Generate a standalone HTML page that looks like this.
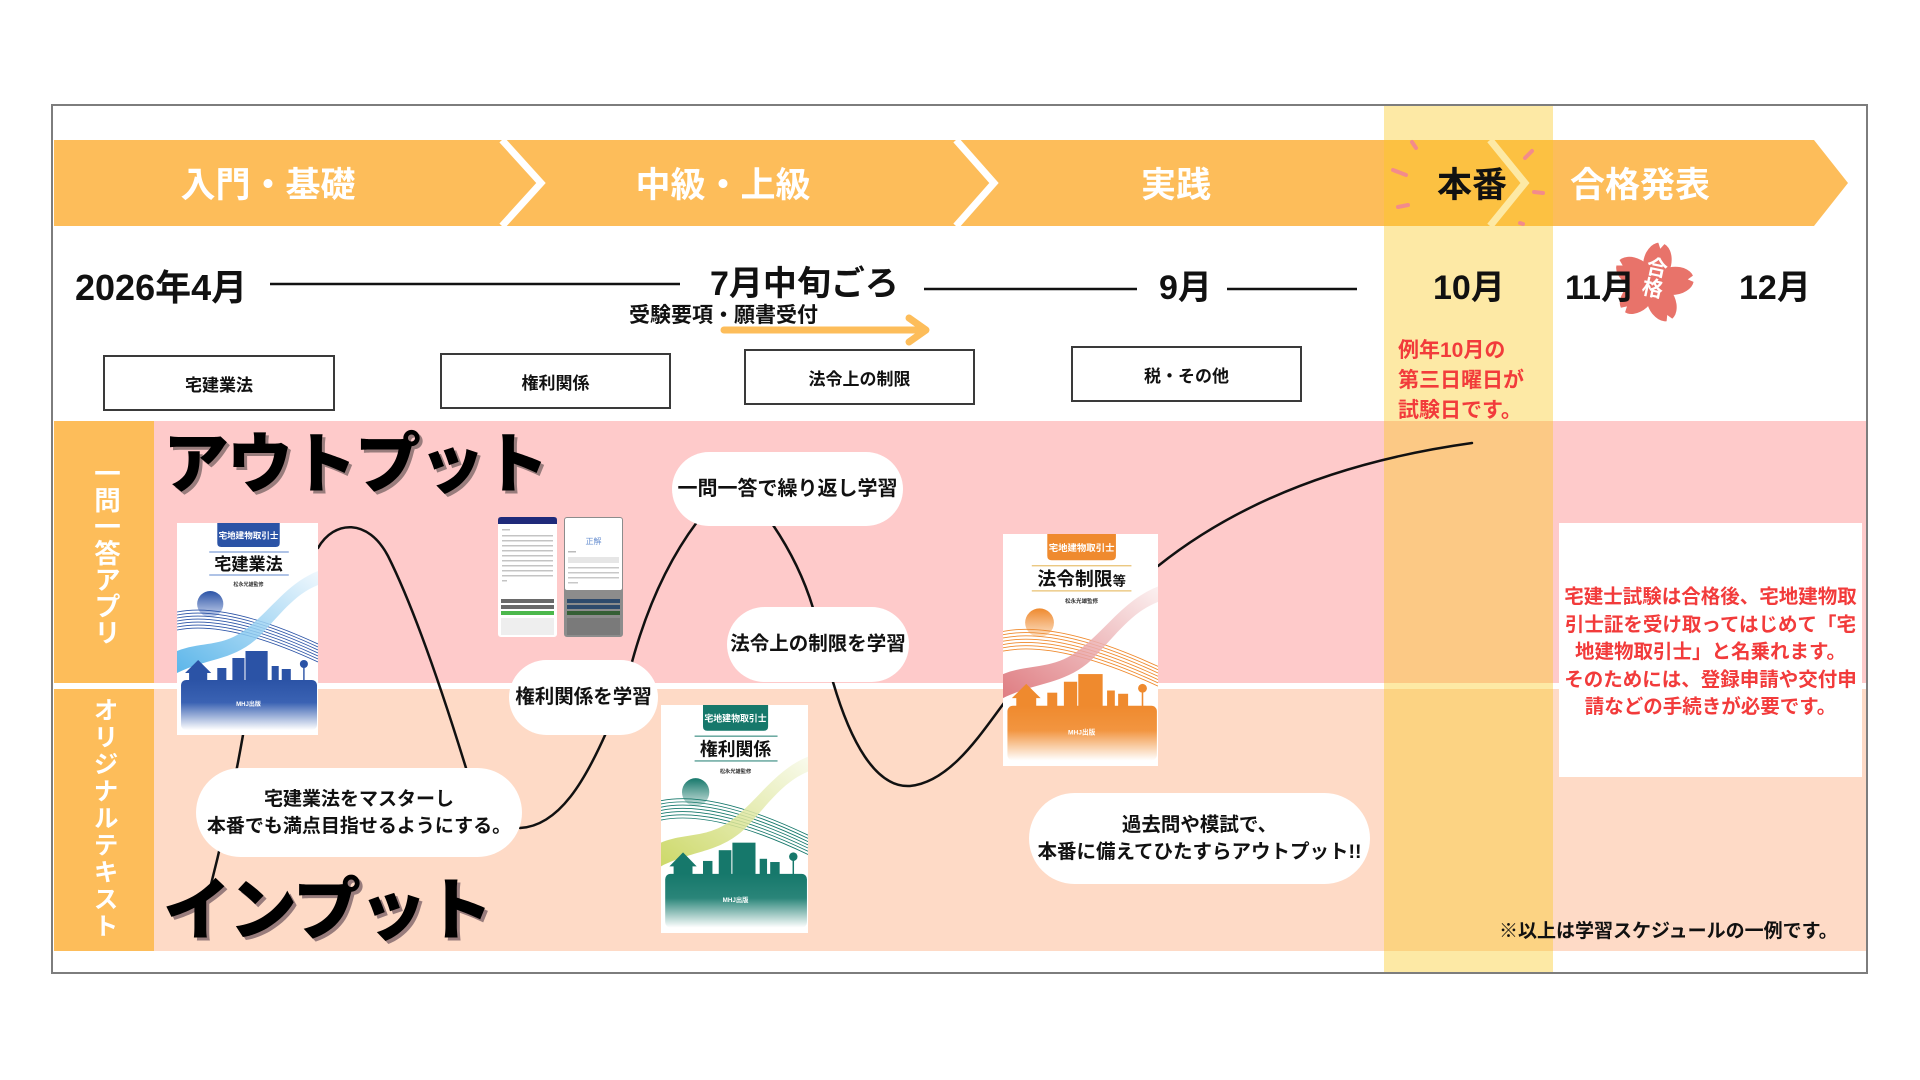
<!DOCTYPE html>
<html lang="ja"><head><meta charset="utf-8"><title>schedule</title>
<style>
*{margin:0;padding:0;box-sizing:border-box}
html,body{width:1920px;height:1080px;overflow:hidden;background:#fff}
body{position:relative;font-family:"Liberation Sans","Noto Sans CJK JP",sans-serif;font-weight:700;color:#111}
.a{position:absolute;white-space:nowrap}
.bt{position:absolute;font-size:35px;line-height:44px;top:164px;width:300px;text-align:center;color:#fff;white-space:nowrap}
.dt{position:absolute;font-size:34px;line-height:44px;white-space:nowrap}
.box{position:absolute;border:2px solid #3a3a3a;background:#fff;font-size:17px;display:flex;align-items:center;justify-content:center;white-space:nowrap}
.bub{position:absolute;background:#fff;border-radius:60px;display:flex;align-items:center;justify-content:center;text-align:center;font-size:19.5px;line-height:27px;white-space:nowrap}
.big{position:absolute;font-size:66px;line-height:80px;letter-spacing:-2px;font-weight:900;text-shadow:3px 3px 0 #987c7c;white-space:nowrap;color:#000}
.vt{position:absolute;writing-mode:vertical-rl;color:#fff;font-size:25px;line-height:30px;width:30px;white-space:nowrap}
.red{color:#f23b3b}
</style></head><body>

<svg class="a" style="left:0;top:0" width="1920" height="1080" viewBox="0 0 1920 1080">
<path d="M54,140 H1814 L1848,183 L1814,226 H54 Z" fill="#fdbd5a"/>
<g fill="none" stroke="#fff" stroke-width="7">
<polyline points="502,140 541,183 502,226"/>
<polyline points="956,140 994,183 956,226"/>
<polyline points="1490,140 1525,183 1490,226"/>
</g>
<rect x="54" y="421" width="1812" height="262" fill="#fecaca"/>
<rect x="54" y="689" width="1812" height="262" fill="#fedac6"/>
<rect x="54" y="421" width="100" height="262" fill="#fdbd5a"/>
<rect x="54" y="689" width="100" height="262" fill="#fdbd5a"/>
<rect x="1384" y="105" width="169" height="868" fill="rgb(251,200,30)" fill-opacity="0.4"/>
<g stroke="#f38b8b" stroke-width="4" stroke-linecap="round">
<line x1="1412" y1="142" x2="1416" y2="148"/>
<line x1="1393" y1="170" x2="1406" y2="175"/>
<line x1="1398" y1="207" x2="1408" y2="205"/>
<line x1="1525" y1="158" x2="1532" y2="151"/>
<line x1="1534" y1="192" x2="1543" y2="193"/>
<line x1="1520" y1="223" x2="1523" y2="224"/>
</g>
<g stroke="#111" stroke-width="2.5">
<line x1="270" y1="284" x2="680" y2="284"/>
<line x1="924" y1="289" x2="1137" y2="289"/>
<line x1="1227" y1="289" x2="1357" y2="289"/>
</g>
<g stroke="#fdbd5a" stroke-width="7" stroke-linecap="round" stroke-linejoin="round" fill="none">
<line x1="724" y1="330" x2="922" y2="330"/>
<polyline points="909,318 926,330 909,342"/>
</g>
<g transform="translate(1653,283) rotate(12)" fill="#e8736a">
<circle r="18"/>
<ellipse cx="0" cy="-21" rx="14" ry="20"/>
<ellipse cx="0" cy="-21" rx="14" ry="20" transform="rotate(72)"/>
<ellipse cx="0" cy="-21" rx="14" ry="20" transform="rotate(144)"/>
<ellipse cx="0" cy="-21" rx="14" ry="20" transform="rotate(216)"/>
<ellipse cx="0" cy="-21" rx="14" ry="20" transform="rotate(288)"/>
<g fill="#fff">
<polygon points="-4,-42 4,-42 0,-35"/>
<polygon points="-4,-42 4,-42 0,-35" transform="rotate(72)"/>
<polygon points="-4,-42 4,-42 0,-35" transform="rotate(144)"/>
<polygon points="-4,-42 4,-42 0,-35" transform="rotate(216)"/>
<polygon points="-4,-42 4,-42 0,-35" transform="rotate(288)"/>
</g>
</g>
<g fill="none" stroke="#111" stroke-width="2.5" stroke-linecap="round">
<path d="M318,548 C334,520 368,518 388,556 C415,610 445,700 466,768"/>
<path d="M243,735 Q228,820 207,900"/>
<path d="M520,828 C560,826 586,778 606,733"/>
<path d="M632,662 Q655,578 697,522"/>
<path d="M773,525 Q800,565 813,608"/>
<path d="M833,682 C850,740 875,788 910,786 C950,782 980,735 1004,703"/>
<path d="M1158,566 Q1278,470 1472,443"/>
</g>
<rect x="52" y="105" width="1815" height="868" fill="none" stroke="#7d7d7d" stroke-width="2"/>
</svg>

<!-- banner texts -->
<div class="bt" style="left:118px">入門・基礎</div>
<div class="bt" style="left:573px">中級・上級</div>
<div class="bt" style="left:1026px">実践</div>
<div class="bt" style="left:1322px;color:#111">本番</div>
<div class="bt" style="left:1490px">合格発表</div>

<!-- dates -->
<div class="dt" style="left:75px;top:264px;font-size:36px;line-height:48px">2026年4月</div>
<div class="dt" style="left:710px;top:262px">7月中旬ごろ</div>
<div class="dt" style="left:1159px;top:266px">9月</div>
<div class="dt" style="left:1433px;top:266px">10月</div>
<div class="dt" style="left:1565px;top:266px">11月</div>
<div class="dt" style="left:1739px;top:266px">12月</div>
<div class="a" style="left:629px;top:302px;font-size:21px;line-height:28px">受験要項・願書受付</div>
<div class="a" style="left:1641px;top:256px;writing-mode:vertical-rl;font-size:21px;line-height:24px;width:24px;color:#fff;transform:rotate(12deg)">合格</div>

<!-- subject boxes -->
<div class="box" style="left:103px;top:355px;width:232px;height:56px">宅建業法</div>
<div class="box" style="left:440px;top:353px;width:231px;height:56px">権利関係</div>
<div class="box" style="left:744px;top:349px;width:231px;height:56px">法令上の制限</div>
<div class="box" style="left:1071px;top:346px;width:231px;height:56px">税・その他</div>

<div class="a red" style="left:1398px;top:336px;font-size:21px;line-height:30px">例年10月の<br>第三日曜日が<br>試験日です。</div>

<!-- side labels -->
<div class="vt" style="left:89px;top:460px;font-size:26.5px;width:32px;line-height:32px">一問一答アプリ</div>
<div class="vt" style="left:89px;top:697px;letter-spacing:2px">オリジナルテキスト</div>

<div class="big" style="left:163px;top:424px">アウトプット</div>
<div class="big" style="left:163px;top:871px;font-size:68px">インプット</div>

<!-- book 1 -->
<svg class="a" style="left:177px;top:523px" width="141" height="212" viewBox="0 0 140 212" preserveAspectRatio="none">
<defs>
<linearGradient id="g1" x1="0" y1="0" x2="0" y2="1"><stop offset="0" stop-color="#2b53a6"/><stop offset="0.45" stop-color="#3a62b3"/><stop offset="1" stop-color="#fff"/></linearGradient>
<linearGradient id="s1" x1="0" y1="0" x2="0" y2="1"><stop offset="0" stop-color="#2b53a6"/><stop offset="1" stop-color="#c9d4ee"/></linearGradient>
<linearGradient id="w1" x1="0" y1="1" x2="1" y2="0"><stop offset="0" stop-color="#3fa9e6"/><stop offset="1" stop-color="#eef7fd"/></linearGradient>
</defs>
<rect width="140" height="212" fill="#fff"/>
<path d="M40,0 H102 V20 Q102,24 98,24 H44 Q40,24 40,20 Z" fill="#2b53a6"/>
<text x="71" y="15.5" font-size="8.5" fill="#fff" text-anchor="middle">宅地建物取引士</text>
<line x1="32" y1="29" x2="111" y2="29" stroke="#7f9fd8" stroke-width="1.2"/>
<text x="71" y="47" font-size="17" fill="#111" text-anchor="middle">宅建業法</text>
<line x1="32" y1="52" x2="111" y2="52" stroke="#7f9fd8" stroke-width="1.2"/>
<text x="71" y="63" font-size="5" fill="#333" text-anchor="middle">松永光雄監修</text>
<circle cx="33" cy="81" r="13" fill="url(#s1)"/>
<g fill="none" stroke="#2b53a6" stroke-width="0.8">
<path d="M0,89 Q50,79 140,121"/><path d="M0,92 Q50,82 140,124"/><path d="M0,95 Q50,85 140,127"/><path d="M0,98 Q50,88 140,130"/><path d="M0,101 Q50,91 140,133"/><path d="M0,104 Q50,94 140,136"/><path d="M0,107 Q50,97 140,139"/>
</g>
<path d="M0,128 C25,118 45,125 70,105 C95,85 110,60 140,48 L140,62 C115,72 100,95 80,115 C55,138 30,135 0,150 Z" fill="url(#w1)" opacity="0.85"/>
<g fill="#2b53a6">
<polygon points="8,150 21,137 34,150"/><rect x="12" y="149" width="18" height="10"/>
<rect x="40" y="145" width="9" height="14"/><rect x="55" y="135" width="12" height="24"/><rect x="68" y="128" width="22" height="31"/>
<rect x="94" y="143" width="7" height="16"/><rect x="104" y="146" width="9" height="13"/>
<circle cx="126" cy="141" r="4"/><rect x="125.3" y="141" width="1.4" height="17"/>
</g>
<rect x="4" y="157" width="135" height="50" rx="5" fill="url(#g1)"/>
<text x="71" y="183" font-size="6" fill="#fff" text-anchor="middle">MHJ出版</text>
</svg>

<!-- book 2 -->
<svg class="a" style="left:661px;top:705px" width="147" height="228" viewBox="0 0 140 212" preserveAspectRatio="none">
<defs>
<linearGradient id="g2" x1="0" y1="0" x2="0" y2="1"><stop offset="0" stop-color="#16786b"/><stop offset="0.45" stop-color="#2a8579"/><stop offset="1" stop-color="#fff"/></linearGradient>
<linearGradient id="s2" x1="0" y1="0" x2="0" y2="1"><stop offset="0" stop-color="#16786b"/><stop offset="1" stop-color="#cfe3df"/></linearGradient>
<linearGradient id="w2" x1="0" y1="1" x2="1" y2="0"><stop offset="0" stop-color="#c4d24f"/><stop offset="1" stop-color="#f8faea"/></linearGradient>
</defs>
<rect width="140" height="212" fill="#fff"/>
<path d="M40,0 H102 V20 Q102,24 98,24 H44 Q40,24 40,20 Z" fill="#16786b"/>
<text x="71" y="15.5" font-size="8.5" fill="#fff" text-anchor="middle">宅地建物取引士</text>
<line x1="32" y1="29" x2="111" y2="29" stroke="#5a9f96" stroke-width="1.2"/>
<text x="71" y="47" font-size="17" fill="#111" text-anchor="middle">権利関係</text>
<line x1="32" y1="52" x2="111" y2="52" stroke="#5a9f96" stroke-width="1.2"/>
<text x="71" y="63" font-size="5" fill="#333" text-anchor="middle">松永光雄監修</text>
<circle cx="33" cy="81" r="13" fill="url(#s2)"/>
<g fill="none" stroke="#16786b" stroke-width="0.8">
<path d="M0,89 Q50,79 140,121"/><path d="M0,92 Q50,82 140,124"/><path d="M0,95 Q50,85 140,127"/><path d="M0,98 Q50,88 140,130"/><path d="M0,101 Q50,91 140,133"/><path d="M0,104 Q50,94 140,136"/><path d="M0,107 Q50,97 140,139"/>
</g>
<path d="M0,128 C25,118 45,125 70,105 C95,85 110,60 140,48 L140,62 C115,72 100,95 80,115 C55,138 30,135 0,150 Z" fill="url(#w2)" opacity="0.85"/>
<g fill="#16786b">
<polygon points="8,150 21,137 34,150"/><rect x="12" y="149" width="18" height="10"/>
<rect x="40" y="145" width="9" height="14"/><rect x="55" y="135" width="12" height="24"/><rect x="68" y="128" width="22" height="31"/>
<rect x="94" y="143" width="7" height="16"/><rect x="104" y="146" width="9" height="13"/>
<circle cx="126" cy="141" r="4"/><rect x="125.3" y="141" width="1.4" height="17"/>
</g>
<rect x="4" y="157" width="135" height="50" rx="5" fill="url(#g2)"/>
<text x="71" y="183" font-size="6" fill="#fff" text-anchor="middle">MHJ出版</text>
</svg>

<!-- book 3 -->
<svg class="a" style="left:1003px;top:534px" width="155" height="232" viewBox="0 0 140 212" preserveAspectRatio="none">
<defs>
<linearGradient id="g3" x1="0" y1="0" x2="0" y2="1"><stop offset="0" stop-color="#ef8a2e"/><stop offset="0.45" stop-color="#f29540"/><stop offset="1" stop-color="#fff"/></linearGradient>
<linearGradient id="s3" x1="0" y1="0" x2="0" y2="1"><stop offset="0" stop-color="#ef8a2e"/><stop offset="1" stop-color="#fbe0c6"/></linearGradient>
<linearGradient id="w3" x1="0" y1="1" x2="1" y2="0"><stop offset="0" stop-color="#d9666c"/><stop offset="1" stop-color="#fbeeee"/></linearGradient>
</defs>
<rect width="140" height="212" fill="#fff"/>
<path d="M40,0 H102 V20 Q102,24 98,24 H44 Q40,24 40,20 Z" fill="#ef8a2e"/>
<text x="71" y="15.5" font-size="8.5" fill="#fff" text-anchor="middle">宅地建物取引士</text>
<line x1="26" y1="29" x2="116" y2="29" stroke="#e8c070" stroke-width="1.2"/>
<text x="71" y="47" font-size="17" fill="#111" text-anchor="middle">法令制限<tspan font-size="12">等</tspan></text>
<line x1="26" y1="52" x2="116" y2="52" stroke="#e8c070" stroke-width="1.2"/>
<text x="71" y="63" font-size="5" fill="#333" text-anchor="middle">松永光雄監修</text>
<circle cx="33" cy="81" r="13" fill="url(#s3)"/>
<g fill="none" stroke="#ef8a2e" stroke-width="0.8">
<path d="M0,89 Q50,79 140,121"/><path d="M0,92 Q50,82 140,124"/><path d="M0,95 Q50,85 140,127"/><path d="M0,98 Q50,88 140,130"/><path d="M0,101 Q50,91 140,133"/><path d="M0,104 Q50,94 140,136"/><path d="M0,107 Q50,97 140,139"/>
</g>
<path d="M0,128 C25,118 45,125 70,105 C95,85 110,60 140,48 L140,62 C115,72 100,95 80,115 C55,138 30,135 0,150 Z" fill="url(#w3)" opacity="0.85"/>
<g fill="#ef8a2e">
<polygon points="8,150 21,137 34,150"/><rect x="12" y="149" width="18" height="10"/>
<rect x="40" y="145" width="9" height="14"/><rect x="55" y="135" width="12" height="24"/><rect x="68" y="128" width="22" height="31"/>
<rect x="94" y="143" width="7" height="16"/><rect x="104" y="146" width="9" height="13"/>
<circle cx="126" cy="141" r="4"/><rect x="125.3" y="141" width="1.4" height="17"/>
</g>
<rect x="4" y="157" width="135" height="50" rx="5" fill="url(#g3)"/>
<text x="71" y="183" font-size="6" fill="#fff" text-anchor="middle">MHJ出版</text>
</svg>

<!-- phones -->
<svg class="a" style="left:498px;top:517px" width="59" height="120" viewBox="0 0 59 120">
<rect width="59" height="120" rx="3" fill="#fff"/>
<path d="M0,3 Q0,0 3,0 H56 Q59,0 59,3 V7 H0 Z" fill="#1f2a7a"/>
<g fill="#c4c4c4">
<rect x="4" y="12" width="8" height="1.5"/>
<rect x="4" y="18" width="51" height="1.5"/><rect x="4" y="23" width="51" height="1.5"/><rect x="4" y="28" width="51" height="1.5"/><rect x="4" y="33" width="51" height="1.5"/><rect x="4" y="38" width="51" height="1.5"/><rect x="4" y="43" width="51" height="1.5"/><rect x="4" y="48" width="51" height="1.5"/><rect x="4" y="53" width="51" height="1.5"/><rect x="4" y="58" width="51" height="1.5"/><rect x="4" y="63" width="5" height="1.5"/>
</g>
<rect x="3" y="82" width="53" height="4" fill="#6a6a6a"/>
<rect x="3" y="88" width="53" height="4" fill="#6a6a6a"/>
<rect x="3" y="94" width="53" height="4" fill="#4cb84c"/>
<rect x="3" y="101" width="53" height="17" fill="#eeeeee"/>
</svg>
<svg class="a" style="left:564px;top:517px" width="59" height="120" viewBox="0 0 59 120">
<rect width="59" height="120" rx="3" fill="#8c8c8c"/>
<rect x="1" y="1" width="57" height="72" rx="2" fill="#fff"/>
<text x="29.5" y="27" font-size="8" fill="#6a90d0" text-anchor="middle" font-weight="400">正解</text>
<rect x="4" y="34" width="8" height="1.5" fill="#bbb"/>
<rect x="4" y="40" width="51" height="6" fill="#e6e6e6"/>
<g fill="#c8c8c8"><rect x="4" y="50" width="51" height="1.5"/><rect x="4" y="55" width="51" height="1.5"/><rect x="4" y="60" width="51" height="1.5"/><rect x="4" y="65" width="10" height="1.5"/></g>
<rect x="3" y="82" width="53" height="4" fill="#2e4a6c"/>
<rect x="3" y="88" width="53" height="4" fill="#2e4a6c"/>
<rect x="3" y="94" width="53" height="4" fill="#355f35"/>
<rect x="3" y="101" width="53" height="17" fill="#7a7a7a"/>
</svg>

<!-- bubbles -->
<div class="bub" style="left:672px;top:452px;width:231px;height:74px;font-size:20px">一問一答で繰り返し学習</div>
<div class="bub" style="left:727px;top:607px;width:182px;height:75px">法令上の制限を学習</div>
<div class="bub" style="left:509px;top:660px;width:149px;height:75px">権利関係を学習</div>
<div class="bub" style="left:196px;top:768px;width:326px;height:89px;font-size:19px">宅建業法をマスターし<br>本番でも満点目指せるようにする。</div>
<div class="bub" style="left:1029px;top:793px;width:341px;height:91px;font-size:19.5px">過去問や模試で、<br>本番に備えてひたすらアウトプット!!</div>

<!-- right info box -->
<div class="a red" style="left:1559px;top:523px;width:303px;height:254px;background:#fff;text-align:center;font-size:19.5px;line-height:27.5px;padding-top:61px;white-space:normal">宅建士試験は合格後、宅地建物取<br>引士証を受け取ってはじめて「宅<br>地建物取引士」と名乗れます。<br>そのためには、登録申請や交付申<br>請などの手続きが必要です。</div>

<div class="a" style="left:1499px;top:918px;font-size:19px;line-height:28px">※以上は学習スケジュールの一例です。</div>

</body></html>
